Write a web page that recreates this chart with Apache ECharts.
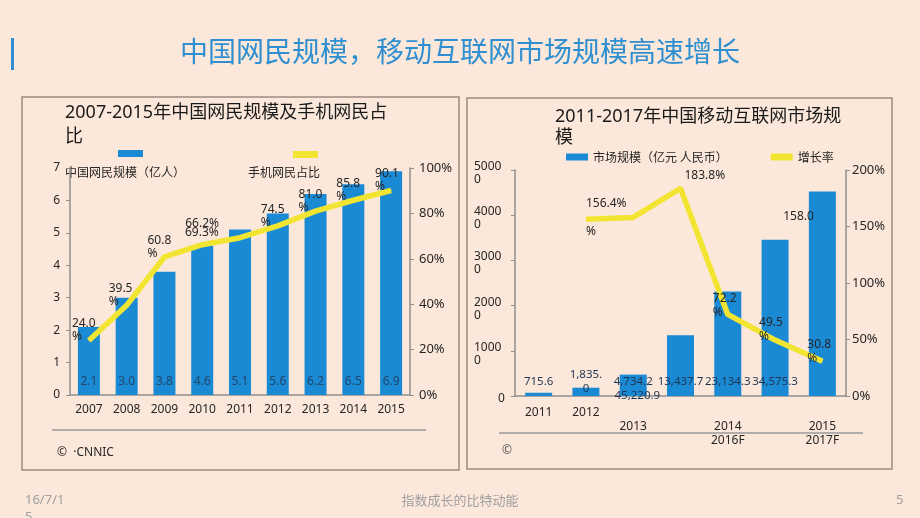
<!DOCTYPE html>
<html>
<head>
<meta charset="utf-8">
<script src="https://cdn.jsdelivr.net/npm/echarts@6/dist/echarts.min.js"></script>
<style>
html,body{margin:0;padding:0;background:#fce8da;}
#c{width:920px;height:518px;}
</style>
</head>
<body>
<div id="c"></div>
<script>
// ---- Data ----
const leftYears = ['2007','2008','2009','2010','2011','2012','2013','2014','2015'];
const netizens = [2.1, 3.0, 3.8, 4.6, 5.1, 5.6, 6.2, 6.5, 6.9];          // 亿人
const mobileShare = [24.0, 39.5, 60.8, 66.2, 69.3, 74.5, 81.0, 85.8, 90.1]; // %

const rightYears = ['2011','2012','2013','2014','2015','2016F','2017F'];
const marketSize = [715.6, 1835.0, 4734.2, 13437.7, 23134.3, 34575.3, 45220.9]; // 亿元
const growthRate = [null, 156.4, 158.0, 183.8, 72.2, 49.5, 30.8];              // %

const rightAxisTickLabels = ['0', '1000\n0', '2000\n0', '3000\n0', '4000\n0', '5000\n0'];
const rightCatLabels = ['2011', '2012', '\n2013', '', '\n2014\n2016F', '', '\n2015\n2017F'];

// ---- Styles ----
const FONT = '"Noto Sans", "Noto Sans CJK SC", sans-serif';
const TFONT = '"Noto Sans CJK SC", sans-serif';
const BLUE = '#1a8ad4';
const YELLOW = '#f2e531';
const AXIS = '#8f8f8f';
const TXT = '#262626';

// label offsets (style only)
const leftLineOffsets = [[-17,-10],[-18,-10],[-17,-10],[-17,-21],[-55,-5],[-17,-10],[-17,-10],[-17,-10],[-16,-10]];
const rightLineOffsets = [null,[0,-2],[150,-1],[4,-13],[-15,-9],[-16,-10],[-15,-10]];

function fmtNum(v){
  return v.toLocaleString('en-US',{minimumFractionDigits:1,maximumFractionDigits:1});
}

const leftLineData = mobileShare.map((v,i)=>({
  value: v,
  label: {offset: leftLineOffsets[i]}
}));
const rightLineData = growthRate.map((v,i)=>(v==null? null : {
  value: v,
  label: {offset: rightLineOffsets[i]}
}));
const rightBarData = marketSize.map((v,i)=>{
  const item = {value: v};
  if (i === 1) item.label = {offset: [0, 7]};
  if (i === 6) item.label = {offset: [-185, 14]};
  return item;
});

const chart = echarts.init(document.getElementById('c'), null, {renderer:'canvas'});

const option = {
  backgroundColor: '#fce8da',
  textStyle: {fontFamily: FONT},
  animation: false,
  legend: [
    {data:['中国网民规模（亿人）'], left:113, top:145, itemWidth:25, itemHeight:7, itemGap:0,
     formatter: ()=>'', selectedMode:false, icon:'rect'},
    {data:['手机网民占比'], left:288, top:146, itemWidth:25, itemHeight:7, itemGap:0,
     formatter: ()=>'', selectedMode:false, icon:'rect'},
    {data:['市场规模（亿元 人民币）','增长率'], left:561, top:146, itemWidth:22, itemHeight:7, itemGap:43,
     selectedMode:false, icon:'rect',
     textStyle:{fontFamily:TFONT, fontSize:12, color:TXT, padding:[0,0,0,0]}}
  ],
  grid: [
    {left:70, right:510, top:168, bottom:123},
    {left:515, right:74, top:170, bottom:122}
  ],
  xAxis: [
    {type:'category', gridIndex:0, data:leftYears,
     axisLine:{lineStyle:{color:AXIS, width:1.5}}, axisTick:{show:false},
     axisLabel:{color:TXT, fontSize:12, margin:9, fontFamily:FONT}},
    {type:'category', gridIndex:1, data:rightYears,
     axisLine:{lineStyle:{color:AXIS, width:1.5}}, axisTick:{show:false},
     axisLabel:{color:TXT, fontSize:12, margin:10, lineHeight:14, fontFamily:FONT, interval:0,
       formatter:(v, i)=>rightCatLabels[i]}}
  ],
  yAxis: [
    {type:'value', gridIndex:0, min:0, max:7, interval:1,
     splitLine:{show:false},
     axisLine:{show:true, lineStyle:{color:AXIS, width:1.5}},
     axisTick:{show:true, length:4, lineStyle:{color:AXIS}},
     axisLabel:{color:TXT, fontSize:12, margin:10, fontFamily:FONT}},
    {type:'value', gridIndex:0, min:0, max:100, interval:20, position:'right',
     splitLine:{show:false},
     axisLine:{show:true, lineStyle:{color:AXIS, width:1.5}},
     axisTick:{show:true, length:4, lineStyle:{color:AXIS}},
     axisLabel:{color:TXT, fontSize:13, margin:9, formatter:'{value}%', fontFamily:FONT}},
    {type:'value', gridIndex:1, min:0, max:50000, interval:10000,
     splitLine:{show:false},
     axisLine:{show:true, lineStyle:{color:AXIS, width:1.5}},
     axisTick:{show:true, length:4, lineStyle:{color:AXIS}},
     axisLabel:{color:TXT, fontSize:12, margin:41, align:'left', lineHeight:13, fontFamily:FONT,
       padding:[6,0,0,0],
       formatter:(v, i)=> v===0 ? '{z|0}' : rightAxisTickLabels[i],
       rich:{z:{padding:[0,0,0,24], fontSize:12, color:TXT}}}},
    {type:'value', gridIndex:1, min:0, max:200, interval:50, position:'right',
     splitLine:{show:false},
     axisLine:{show:true, lineStyle:{color:AXIS, width:1.5}},
     axisTick:{show:true, length:4, lineStyle:{color:AXIS}},
     axisLabel:{color:TXT, fontSize:13, margin:6, formatter:'{value}%', fontFamily:FONT}}
  ],
  series: [
    {name:'中国网民规模（亿人）', type:'bar', xAxisIndex:0, yAxisIndex:0, data:netizens,
     barWidth:22, itemStyle:{color:BLUE},
     label:{show:true, position:'insideBottom', distance:7, color:'#24476b', fontSize:12,
       fontFamily:FONT, formatter:p=>p.value.toFixed(1)}},
    {name:'手机网民占比', type:'line', xAxisIndex:0, yAxisIndex:1, data:leftLineData,
     symbol:'circle', symbolSize:1, itemStyle:{color:YELLOW},
     lineStyle:{color:YELLOW, width:5.5}, z:5,
     label:{show:true, position:'inside', align:'left', verticalAlign:'middle',
       color:TXT, fontSize:12, lineHeight:13, fontFamily:FONT,
       formatter:p=> (p.dataIndex===3||p.dataIndex===4) ? p.value.toFixed(1)+'%' : p.value.toFixed(1)+'\n%'}},
    {name:'市场规模（亿元 人民币）', type:'bar', xAxisIndex:1, yAxisIndex:2, data:rightBarData,
     barWidth:27, itemStyle:{color:BLUE},
     label:{show:true, position:'insideBottom', distance:7, color:'#1f3550', fontSize:11.5,
       lineHeight:14, fontFamily:FONT,
       formatter:p=>{ const t = fmtNum(p.value); return p.dataIndex===1 ? t.slice(0,-1)+'\n'+t.slice(-1) : t; }}},
    {name:'增长率', type:'line', xAxisIndex:1, yAxisIndex:3, data:rightLineData,
     symbol:'circle', symbolSize:1, itemStyle:{color:YELLOW}, connectNulls:false,
     lineStyle:{color:YELLOW, width:5.5}, z:5,
     label:{show:true, position:'inside', align:'left', verticalAlign:'middle',
       color:TXT, fontSize:12, lineHeight:14, fontFamily:FONT,
       formatter:p=>{
         const t = p.value.toFixed(1);
         if (p.dataIndex===1) return t+'%\n\n%';
         if (p.dataIndex===2) return t;
         if (p.dataIndex===3) return t+'%';
         return t+'\n%';
       }}}
  ],
  graphic: [
    {type:'rect', shape:{x:11, y:38, width:3, height:32}, style:{fill:'#2f8fd0'}},
    {type:'text', left:'center', top:37, style:{text:'中国网民规模，移动互联网市场规模高速增长',
      font:'28px '+TFONT, fill:'#2f8fd0'}},
    {type:'rect', shape:{x:22, y:97, width:437, height:373}, style:{fill:'none', stroke:'#9c8b80', lineWidth:1.5}},
    {type:'rect', shape:{x:467, y:98, width:425, height:371}, style:{fill:'none', stroke:'#9c8b80', lineWidth:1.5}},
    {type:'text', x:65, y:101, style:{text:'2007-2015年中国网民规模及手机网民占\n比',
      font:'18px '+FONT, fill:'#1a1a1a', lineHeight:24}},
    {type:'text', x:555, y:106, style:{text:'2011-2017年中国移动互联网市场规\n模',
      font:'18px '+FONT, fill:'#1a1a1a', lineHeight:21}},
    {type:'text', x:65, y:172, style:{text:'中国网民规模（亿人）', font:'12px '+TFONT, fill:TXT, textVerticalAlign:'middle'}},
    {type:'text', x:248, y:172, style:{text:'手机网民占比', font:'12px '+TFONT, fill:TXT, textVerticalAlign:'middle'}},
    {type:'line', shape:{x1:52, y1:430, x2:426, y2:430}, style:{stroke:'#9a9a9a', lineWidth:1.5}},
    {type:'line', shape:{x1:499, y1:433, x2:863, y2:433}, style:{stroke:'#9a9a9a', lineWidth:1.5}},
    {type:'text', x:57, y:453, style:{text:'©  ·CNNIC', font:'12px '+FONT, fill:TXT, textVerticalAlign:'middle'}},
    {type:'text', x:502, y:451, style:{text:'©', font:'12px '+FONT, fill:'#555', textVerticalAlign:'middle'}},
    {type:'text', x:25, y:500, style:{text:'16/7/1', font:'13px '+FONT, fill:'#a0a0a0', textVerticalAlign:'middle'}},
    {type:'text', x:25, y:517, style:{text:'5', font:'13px '+FONT, fill:'#a0a0a0', textVerticalAlign:'middle'}},
    {type:'text', x:460, y:500, style:{text:'指数成长的比特动能', font:'13px '+TFONT, fill:'#a0a0a0', textAlign:'center', textVerticalAlign:'middle'}},
    {type:'text', x:896, y:500, style:{text:'5', font:'13px '+FONT, fill:'#a0a0a0', textVerticalAlign:'middle'}}
  ]
};
chart.setOption(option);
</script>
</body>
</html>
